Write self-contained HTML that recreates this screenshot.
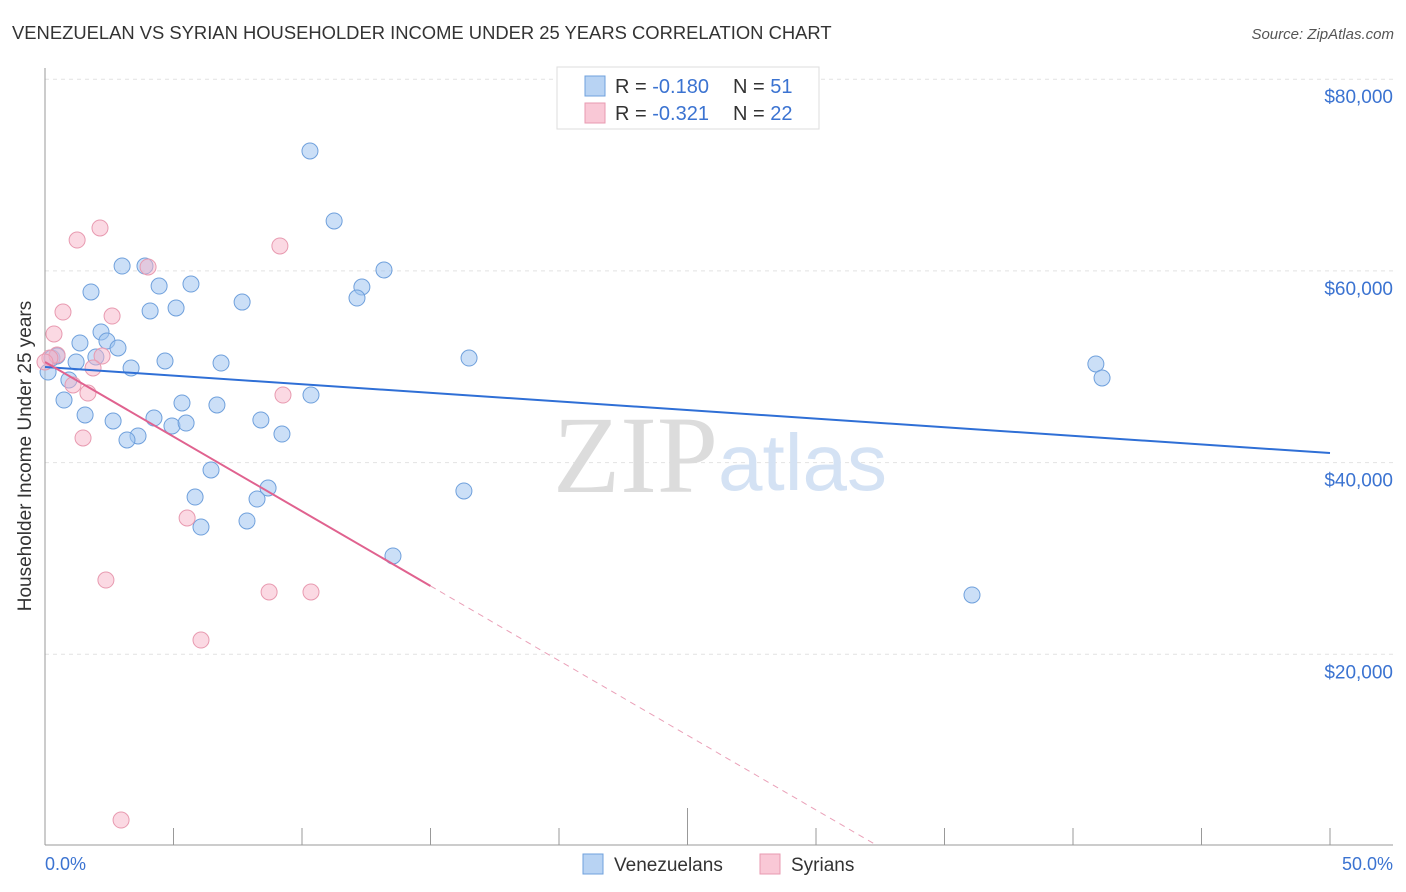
<!DOCTYPE html>
<html><head><meta charset="utf-8"><style>
body{margin:0;background:#fff;font-family:"Liberation Sans",sans-serif}
#c{position:absolute;left:0;top:0}
</style></head><body>
<svg id="c" width="1406" height="892">
<text x="12" y="39" font-size="18.4" fill="#333">VENEZUELAN VS SYRIAN HOUSEHOLDER INCOME UNDER 25 YEARS CORRELATION CHART</text>
<text x="1394" y="39" font-size="15" fill="#555" font-style="italic" text-anchor="end">Source: ZipAtlas.com</text>
<g id="grid"></g>
<g>
<text x="553" y="492" font-size="110" font-family="Liberation Serif,serif" fill="#dcdcdc">ZIP</text>
<text x="718" y="490" font-size="80" fill="#d4e2f4">atlas</text>
</g>
<line x1="45" y1="68" x2="45" y2="845" stroke="#999"/>
<line x1="45" y1="845" x2="1393" y2="845" stroke="#999"/>
<g id="ticks"></g>
<g id="pts"></g>
<g id="lines"></g>
<text x="31" y="456" font-size="19" fill="#333" text-anchor="middle" transform="rotate(-90 31 456)">Householder Income Under 25 years</text>
<text x="45" y="870" font-size="18" fill="#3b73d1">0.0%</text>
<text x="1393" y="870" font-size="18" fill="#3b73d1" text-anchor="end">50.0%</text>
<g>
<rect x="557" y="67" width="262" height="62" fill="#fff" stroke="#ddd"/>
<rect x="585" y="76" width="20" height="20" fill="#b8d3f3" stroke="#6fa0dc"/>
<rect x="585" y="103" width="20" height="20" fill="#f9c8d6" stroke="#e89ab0"/>
<text x="615" y="93" font-size="20" fill="#333">R = <tspan fill="#3b73d1">-0.180</tspan><tspan x="733">N = </tspan><tspan fill="#3b73d1">51</tspan></text>
<text x="615" y="120" font-size="20" fill="#333">R = <tspan fill="#3b73d1"> -0.321</tspan><tspan x="733">N = </tspan><tspan fill="#3b73d1">22</tspan></text>
</g>
<g><rect x="583" y="854" width="20" height="20" fill="#b8d3f3" stroke="#6fa0dc"/><text x="614" y="871" font-size="19" fill="#333">Venezuelans</text></g>
<g><rect x="760" y="854" width="20" height="20" fill="#f9c8d6" stroke="#e89ab0"/><text x="791" y="871" font-size="19" fill="#333">Syrians</text></g>
</svg>
<script>
const yTicks=[20000,40000,60000,80000];
const yTickLabels=["$20,000","$40,000","$60,000","$80,000"];
const xTicks=[0,5,10,15,20,25,30,35,40,45,50];
const venX=[10.31,11.25,3.00,3.89,13.19,1.79,4.44,5.68,12.33,12.14,7.67,4.09,5.10,2.18,1.36,2.41,2.84,1.98,4.67,1.21,3.35,6.85,16.50,40.89,41.13,0.93,0.74,10.35,5.33,6.69,1.56,2.65,4.24,8.40,4.94,5.49,9.22,3.62,3.19,6.46,8.68,16.30,5.84,8.25,7.86,6.07,13.54,36.07,0.27,0.47,0.12];
const venY=[72510,65210,60510,60510,60100,57800,58420,58630,58320,57170,56750,55820,56130,53630,52480,52690,51960,51020,50600,50500,49870,50390,50910,50290,48830,48620,46530,47050,46220,46010,44970,44340,44650,44450,43820,44130,42980,42780,42360,39230,37350,37040,36410,36200,33910,33280,30260,26190,50910,51120,49450];
const syrX=[2.14,1.25,9.14,4.01,0.70,2.61,0.35,0.47,2.22,1.87,1.09,1.67,9.26,1.48,5.53,2.37,8.72,10.35,6.07,2.96,0.19,0.0];
const syrY=[64480,63220,62600,60410,55710,55290,53420,51230,51120,49870,48100,47260,47050,42570,34220,27750,26500,26500,21490,2710,50910,50500];
const venTrend=[49970,41000];
const syrTrend=[50500,27130,15,32.3];
const X=v=>45+v*25.7, Y=v=>846-v/104.33;
const NS="http://www.w3.org/2000/svg";
function mk(p,t,a){const e=document.createElementNS(NS,t);for(const k in a)e.setAttribute(k,a[k]);document.getElementById(p).appendChild(e);return e;}
yTicks.forEach((v,i)=>{
 const l=mk('grid','line',{x1:45,x2:1393,y1:Y(v),y2:Y(v),stroke:'#e2e2e2','stroke-dasharray':'4,4'});
 
 
 const t=mk('grid','text',{x:1393,y:Y(v)+24,'font-size':19,fill:'#3b73d1','text-anchor':'end'});
 t.textContent=yTickLabels[i];
 
 
});
xTicks.forEach(v=>{
 const l=mk('ticks','line',{x1:X(v),x2:X(v),y1:(v==25?808:828),y2:845,stroke:'#999'});
 
 
});
venX.forEach((x,i)=>{
 const c=mk('pts','circle',{cx:X(x),cy:Y(venY[i]),r:8,fill:'rgba(160,196,240,0.55)',stroke:'#6fa0dc','stroke-width':1});
 
 
});
syrX.forEach((x,i)=>{
 const c=mk('pts','circle',{cx:X(x),cy:Y(syrY[i]),r:8,fill:'rgba(248,180,200,0.5)',stroke:'#e89ab0','stroke-width':1});
 
 
});
const sl=(syrTrend[1]-syrTrend[0])/syrTrend[2];
let l1=mk('lines','line',{x1:X(0),y1:Y(venTrend[0]),x2:X(50),y2:Y(venTrend[1]),stroke:'#2f6fd6','stroke-width':2});


let l2=mk('lines','line',{x1:X(0),y1:Y(syrTrend[0]),x2:X(syrTrend[2]),y2:Y(syrTrend[1]),stroke:'#e0628f','stroke-width':2});


let l3=mk('lines','line',{x1:X(syrTrend[2]),y1:Y(syrTrend[1]),x2:X(syrTrend[3]),y2:Y(syrTrend[0]+sl*syrTrend[3]),stroke:'#eaa0b8','stroke-width':1,'stroke-dasharray':'6,5'});


</script>
</body></html>
